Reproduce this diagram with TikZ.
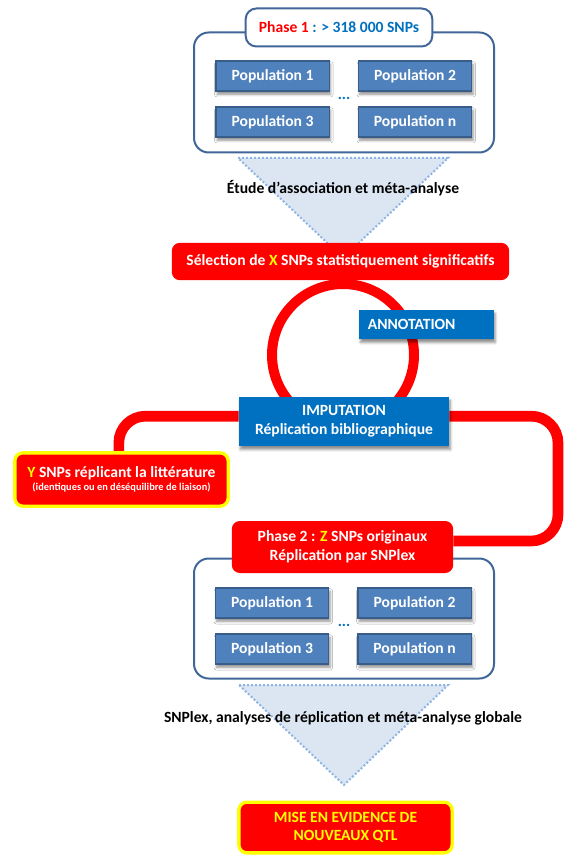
\documentclass[tikz,border=0pt]{standalone}
\usepackage{fontspec}
\setmainfont{Carlito}
\definecolor{snpRed}{HTML}{FF0000}
\definecolor{snpYellow}{HTML}{FFFF00}
\definecolor{snpBlue}{HTML}{0070C0}
\definecolor{snpPop}{HTML}{4F81BD}
\definecolor{snpPopEdge}{HTML}{385D8A}
\definecolor{snpFrame}{HTML}{41679A}
\definecolor{snpFunnel}{HTML}{DCE6F2}
\definecolor{snpFunnelEdge}{HTML}{8EB4E3}
\usetikzlibrary{positioning,shadows.blur}
\pgfdeclarelayer{background}
\pgfsetlayers{background,main}

\begin{document}
\begin{tikzpicture}[x=0.75pt, y=-0.75pt,
  font=\fontsize{11.7}{14}\selectfont\bfseries,
  boxshadow/.style={blur shadow={shadow xshift=1pt, shadow yshift=-2.5pt, shadow blur radius=2pt, shadow opacity=45}},
  framebox/.style={draw=snpFrame, line width=1.5pt, rounded corners=11pt, fill=white, minimum width=225pt, minimum height=90pt},
  popbox/.style={draw=snpPopEdge, line width=1pt, fill=snpPop, text=white, minimum width=85pt, minimum height=22.5pt, inner sep=0pt, boxshadow},
  redbox/.style={fill=snpRed, text=white, rounded corners=6pt, align=center, inner sep=0pt},
  bluebox/.style={fill=snpBlue, text=white, align=center, inner sep=0pt, boxshadow},
  yellowbox/.style={redbox, draw=snpYellow, line width=2.5pt},
  loopline/.style={draw=snpRed, line width=8pt, rounded corners=20pt},
  funnel/.style={fill=snpFunnel, draw=snpFunnelEdge, line width=1.5pt, dash pattern=on 1.5pt off 1.5pt}]
  \useasboundingbox (0,0) rectangle (566,855);

  % Phase 1
  \node[framebox] (frame1) at (344,92.5) {};
  \node[draw=snpFrame, line width=1.5pt, fill=white, rounded corners=8pt, minimum width=140pt, minimum height=28.5pt, inner sep=0pt] (phase1) at (339,27.5)
    {\textcolor{snpRed}{Phase 1} \textcolor{snpBlue}{: > 318 000 SNPs}};
  \node[popbox] (popA1) at (272.5,76) {Population 1};
  \node[popbox] (popB1) at (415,76) {Population 2};
  \node[popbox] (popC1) at (272.5,122) {Population 3};
  \node[popbox] (popN1) at (415,122) {Population n};
  \node[text=snpBlue, anchor=base] (dots1) at (344,100) {...};

  % Funnel 1
  \node (etude) at (343,188) {Étude d’association et méta-analyse};

  % Selection and loop
  \node[redbox, minimum width=253pt, minimum height=28pt] (select) at (340.5,261.5)
    {Sélection de \textcolor{snpYellow}{X} SNPs statistiquement significatifs};
  \node[bluebox, minimum width=101pt, minimum height=22pt, text width=88pt, align=left] (annot) at (426.5,324.5) {ANNOTATION};
  \node[bluebox, minimum width=157.5pt, minimum height=37pt] (imput) at (344,421.5)
    {IMPUTATION\\Réplication bibliographique};
  \node[yellowbox, minimum width=160pt, minimum height=40pt] (ybox) at (121.5,479.5)
    {\textcolor{snpYellow}{Y} SNPs réplicant la littérature\\[-4.5pt]
     {\fontsize{7.8}{8}\selectfont (identiques ou en déséquilibre de liaison)}};

  % Phase 2
  \node[framebox] (frame2) at (344,618.5) {};
  \node[redbox, minimum width=166pt, minimum height=39pt] (phase2) at (342.5,547)
    {Phase 2 : \textcolor{snpYellow}{Z} SNPs originaux\\Réplication par SNPlex};
  \node[popbox] (popA2) at (272,603) {Population 1};
  \node[popbox] (popB2) at (414.5,603) {Population 2};
  \node[popbox] (popC2) at (272,649) {Population 3};
  \node[popbox] (popN2) at (414.5,649) {Population n};
  \node[text=snpBlue, anchor=base] (dots2) at (344,626) {...};

  % Funnel 2 and result
  \node (snplex) at (343,718) {SNPlex, analyses de réplication et méta-analyse globale};
  \node[yellowbox, minimum width=160pt, minimum height=38pt, text=snpYellow] (qtl) at (345.5,827.5)
    {MISE EN EVIDENCE DE\\NOUVEAUX QTL};

  \coordinate (rturn) at (558,480);

  \begin{pgfonlayer}{background}
    \fill[funnel] (238,158) -- (448,158) -- (343,258) -- cycle;
    \fill[funnel] (239,685) -- (448,685) -- (344,785) -- cycle;
    \draw[snpRed, line width=7.5pt] (343,355) circle[radius=53.25pt];
    \draw[loopline] ([yshift=4pt]imput.west) -| ([xshift=-2pt]ybox.north);
    \draw[loopline] ([yshift=4pt]imput.east) -| (rturn) |- ([yshift=4.5pt]phase2.east);
  \end{pgfonlayer}
\end{tikzpicture}
\end{document}
